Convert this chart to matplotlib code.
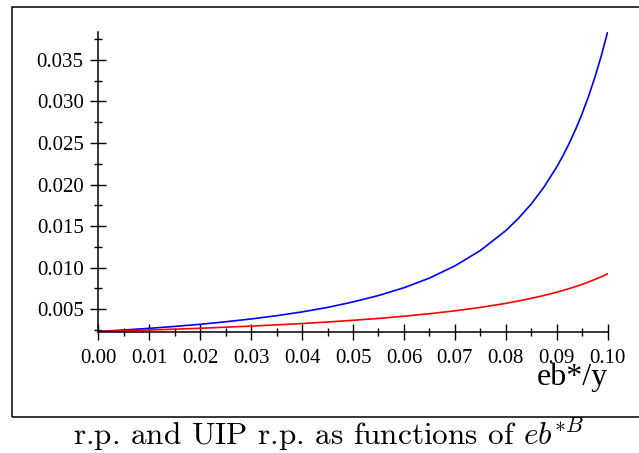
import matplotlib
matplotlib.use('Agg')
import matplotlib.pyplot as plt
from matplotlib.patches import Rectangle
from matplotlib.ticker import MultipleLocator, FormatStrFormatter

# values
x = [0.000, 0.005, 0.010, 0.015, 0.020, 0.025, 0.030, 0.035, 0.040, 0.045,
     0.050, 0.055, 0.060, 0.065, 0.070, 0.075, 0.080, 0.0825, 0.085, 0.0875,
     0.090, 0.09125, 0.0925, 0.09375, 0.095, 0.09625, 0.0975, 0.09875, 0.100]
rp = [0.00230, 0.00248, 0.00268, 0.00291, 0.00317, 0.00347, 0.00381, 0.00420,
      0.00466, 0.00520, 0.00586, 0.00663, 0.00757, 0.00873, 0.01020, 0.01205,
      0.01445, 0.01594, 0.01766, 0.01970, 0.02212, 0.02350, 0.02503, 0.02671,
      0.02857, 0.03063, 0.03294, 0.03551, 0.03840]
uip_rp = [0.00230, 0.00239, 0.00248, 0.00258, 0.00269, 0.00282, 0.00295, 0.00310,
          0.00326, 0.00344, 0.00365, 0.00387, 0.00414, 0.00444, 0.00479, 0.00520,
          0.00569, 0.00598, 0.00629, 0.00664, 0.00703, 0.00725, 0.00748, 0.00772,
          0.00798, 0.00826, 0.00857, 0.00889, 0.00924]

plt.rcParams['font.family'] = ['Liberation Serif', 'DejaVu Serif']
plt.rcParams['mathtext.fontset'] = 'cm'

fig = plt.figure(figsize=(6.39, 4.53), dpi=100)
ax = fig.add_axes([98.3 / 639, (453 - 331.5) / 453, 509.4 / 639, 299.8 / 453])

ax.plot(x, rp, color='#0000ff', lw=1.2)
ax.plot(x, uip_rp, color='#ff0000', lw=1.2)

ax.set_xlim(0, 0.1)
ax.set_ylim(0.0023, 0.0384)

for s in ['top', 'right']:
    ax.spines[s].set_visible(False)
for s in ['left', 'bottom']:
    ax.spines[s].set_linewidth(1.1)

ax.xaxis.set_major_locator(MultipleLocator(0.01))
ax.xaxis.set_minor_locator(MultipleLocator(0.005))
ax.yaxis.set_major_locator(MultipleLocator(0.005))
ax.yaxis.set_minor_locator(MultipleLocator(0.0025))
ax.xaxis.set_major_formatter(FormatStrFormatter('%.2f'))
ax.yaxis.set_major_formatter(FormatStrFormatter('%.3f'))

ax.tick_params(which='major', direction='inout', length=11, width=1.0, labelsize=15)
ax.tick_params(axis='y', which='major', pad=5)
ax.tick_params(axis='x', which='major', pad=7)
ax.tick_params(which='minor', direction='inout', length=5.5, width=1.0)

# axis name sits under the last tick labels, as in the reference
ax.text(1.0, -0.178, 'eb*/y', transform=ax.transAxes, ha='right', va='baseline', fontsize=23)

fig.text(329 / 639, (453 - 445) / 453,
         r'r.p. and UIP r.p. as functions of $eb^{*B}$',
         ha='center', va='baseline', fontsize=22.5, family='cmr10')

fig.patches.append(Rectangle((11.5 / 639, (453 - 416.7) / 453), 0.99, (416.7 - 7) / 453,
                             transform=fig.transFigure, fill=False, lw=1.1, color='black'))

fig.savefig('out.png', dpi=100)
